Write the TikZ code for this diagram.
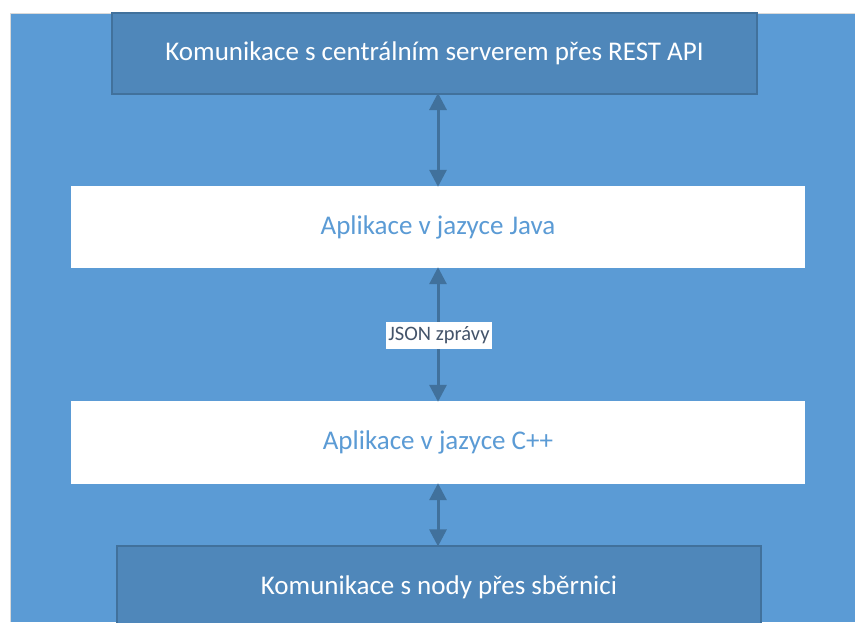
\documentclass[tikz,border=0pt]{standalone}
\usepackage{fontspec}
\setmainfont{Carlito}
\usepackage{xcolor}
\usetikzlibrary{arrows.meta}
\definecolor{bgblue}{HTML}{5B9BD5}
\definecolor{darkbox}{HTML}{4F87BA}
\definecolor{edgeblue}{HTML}{41719C}
\definecolor{labeltext}{HTML}{44546A}
\begin{document}
\begin{tikzpicture}[x=1pt,y=-1pt]
                \tikzstyle{every node}+=[inner sep=0pt]
                \tikzstyle{darkbox}=[draw=edgeblue, line width=1.2pt, fill=darkbox, text=white, font=\fontsize{27}{32}\selectfont]
                \tikzstyle{whitebox}=[fill=white, text=bgblue, font=\fontsize{27}{32}\selectfont]
                \tikzstyle{link}=[edgeblue, line width=3pt, {Triangle[length=17pt,width=17pt]}-{Triangle[length=17pt,width=17pt]}, shorten >=-1pt, shorten <=-1pt]
                \useasboundingbox (0,0) rectangle (855,622);
                \fill [white] (0,0) rectangle (855,622);
                \fill [bgblue] (10,13) rectangle (855,622);
                \draw [black!15, line width=1pt] (10,622) -- (10,13) -- (855,13);
                \node [darkbox, minimum width=645pt, minimum height=81pt] (rest) at (434.5,53.5) {Komunikace s centrálním serverem přes REST API};
                \node [whitebox, minimum width=734pt, minimum height=82pt] (java) at (438,227) {Aplikace v jazyce Java};
                \node [whitebox, minimum width=734pt, minimum height=83pt] (cpp) at (438,442.5) {Aplikace v jazyce C++};
                \begin{scope}
                \clip (0,0) rectangle (855,622);
                \node [darkbox, minimum width=644pt, minimum height=84pt] (bus) at (439,588) {};
                \end{scope}
                \node [text=white, font=\fontsize{27}{32}\selectfont] (bustext) at (439,587) {Komunikace s nody přes sběrnici};
                \draw [link] (438,94) -- (java.north -| 438,0);
                \draw [link] (java.south -| 438,0) -- (cpp.north -| 438,0);
                \draw [link] (cpp.south -| 438,0) -- (bus.north -| 438,0);
                \node [fill=white, text=labeltext, font=\fontsize{20.5}{24}\selectfont, minimum width=106pt, minimum height=27pt] (json) at (439,335.5) {JSON zprávy};
\end{tikzpicture}
\end{document}
